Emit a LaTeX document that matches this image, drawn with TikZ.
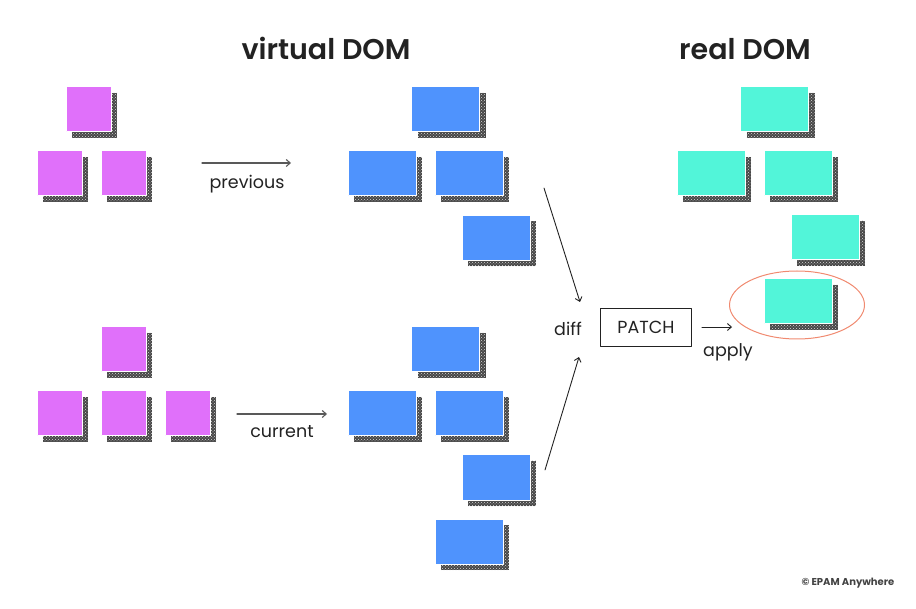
\documentclass[tikz,border=0pt]{standalone}
\usepackage{fontspec}
\setmainfont{Poppins}
\newfontfamily\headfont{Poppins SemiBold}
\usetikzlibrary{arrows.meta, shadows, patterns, shapes.geometric}

\definecolor{tilepink}{HTML}{E070FA}
\definecolor{tileblue}{HTML}{4F93FD}
\definecolor{tilegreen}{HTML}{52F5D9}
\definecolor{ringred}{HTML}{F08A70}
\definecolor{inkdark}{HTML}{222222}
\definecolor{shadowgray}{HTML}{474747}

\tikzset{
	tile/.style={rectangle, inner sep=0pt, draw=white, line width=1pt, minimum height=45pt,
		general shadow={shadow xshift=6pt, shadow yshift=-6pt, fill=shadowgray},
		general shadow={shadow xshift=6pt, shadow yshift=-6pt, pattern=crosshatch dots, pattern color=white!85!black}},
	pinktile/.style={tile, fill=tilepink, minimum width=45pt},
	bluetile/.style={tile, fill=tileblue, minimum width=68pt},
	greentile/.style={tile, fill=tilegreen, minimum width=68pt},
	label/.style={font=\fontsize{17.5}{20}\selectfont, text=inkdark, inner sep=0pt},
	heading/.style={font=\fontsize{28.5}{32}\headfont, text=inkdark, anchor=base, inner sep=0pt}
}

\begin{document}
\begin{tikzpicture}[x=1pt, y=-1pt, >={Straight Barb[length=4pt, width=7pt]}, line cap=round, line join=round]
\useasboundingbox (0,0) rectangle (916,609);
%========================
% titles
%========================
\node[heading] (vtitle) at (326,60) {virtual DOM};
\node[heading] (rtitle) at (745,60) {real DOM};

%========================
% Left: app state trees
%========================
% previous tree
\node[pinktile] (pa) at (88.5,109.5) {};
\node[pinktile] (pb) at (59.5,173.5) {};
\node[pinktile] (pc) at (123.5,173.5) {};
% current tree
\node[pinktile] (pd) at (123.5,349.5) {};
\node[pinktile] (pe) at (59.5,413.5) {};
\node[pinktile] (pf) at (123.5,413.5) {};
\node[pinktile] (pg) at (187.5,413.5) {};

% render arrows
\coordinate (prevA) at (202,163);
\coordinate (prevB) at (291,163);
\draw[->, black!65, line width=1.1pt] (prevA) -- (prevB);
\node[label] (prevlbl) at (247,184) {previous};
\coordinate (curA) at (237,414);
\coordinate (curB) at (327,414);
\draw[->, black!65, line width=1.1pt] (curA) -- (curB);
\node[label] (curlbl) at (282,432) {current};

%========================
% Middle: virtual DOM trees
%========================
\node[bluetile] (ba) at (445.5,109.5) {};
\node[bluetile] (bb) at (382,173.5) {};
\node[bluetile] (bc) at (469,173.5) {};
\node[bluetile] (bd) at (496,238) {};

\node[bluetile] (be) at (445.5,349.5) {};
\node[bluetile] (bf) at (382,413.5) {};
\node[bluetile] (bg) at (469,413.5) {};
\node[bluetile] (bh) at (496,477.5) {};
\node[bluetile] (bi) at (469,541.5) {};

% diff + patch
\node[label] (diff) at (568,329) {diff};
\coordinate (diffA) at (544,188);
\coordinate (diffB) at (580,302);
\coordinate (diffC) at (545,470);
\coordinate (diffD) at (579,357);
\draw[->, inkdark, line width=0.9pt] (diffA) -- (diffB);
\draw[->, inkdark, line width=0.9pt] (diffC) -- (diffD);

\node[label, draw=inkdark, line width=0.9pt, minimum width=91pt, minimum height=38pt] (patch) at (646,327) {PATCH};

%========================
% Right: real DOM tree
%========================
\node[greentile] (ga) at (774.5,109.5) {};
\node[greentile] (gb) at (711,173.5) {};
\node[greentile] (gc) at (798,173.5) {};
\node[greentile] (gd) at (825,237.5) {};
\node[greentile] (ge) at (798,301.5) {};

% changed node
\node[draw=ringred, line width=1pt, ellipse, inner sep=0pt, minimum width=135pt, minimum height=68pt] (ring) at (797,305) {};
\draw[->, inkdark, line width=0.9pt] ([xshift=10pt]patch.east) -- ([xshift=3pt]patch.east -| ring.west);
\node[label] (applylbl) at (728,352) {apply};

\node[font=\fontsize{10}{12}\selectfont\bfseries, text=inkdark!85, inner sep=0pt] (credit) at (848,583) {© EPAM Anywhere};
\end{tikzpicture}
\end{document}
